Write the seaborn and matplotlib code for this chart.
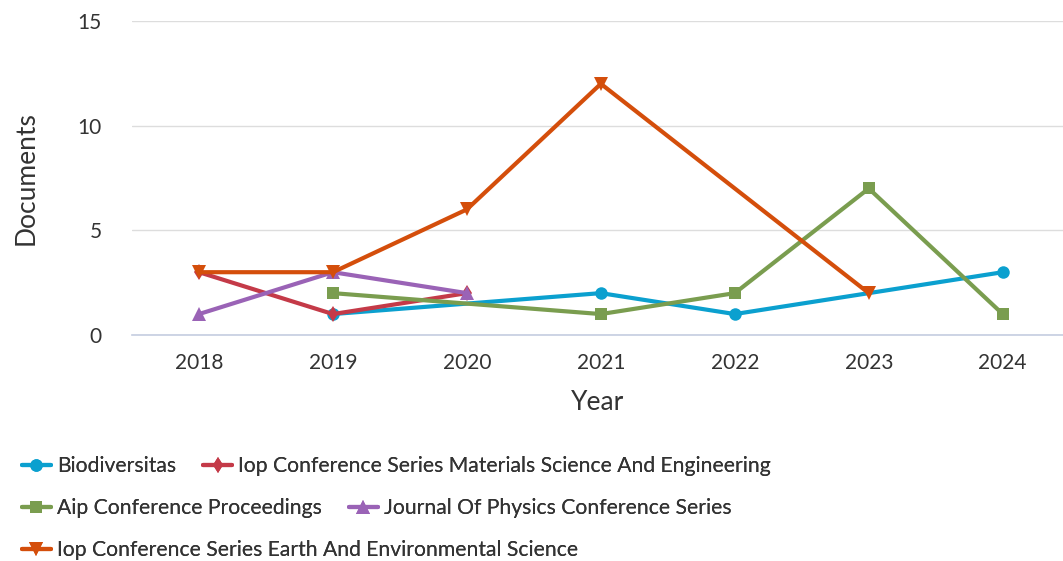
import matplotlib
matplotlib.use("Agg")
import matplotlib.pyplot as plt
import seaborn as sns
import pandas as pd

# Data
bio_years = [2019, 2021, 2022, 2024]
bio_docs = [1, 2, 1, 3]

iop_mse_years = [2018, 2019, 2020]
iop_mse_docs = [3, 1, 2]

aip_years = [2019, 2021, 2022, 2023, 2024]
aip_docs = [2, 1, 2, 7, 1]

jphys_years = [2018, 2019, 2020]
jphys_docs = [1, 3, 2]

iop_ees_years = [2018, 2019, 2020, 2021, 2023]
iop_ees_docs = [3, 3, 6, 12, 2]

year_ticks = [2018, 2019, 2020, 2021, 2022, 2023, 2024]
doc_ticks = [0, 5, 10, 15]

series = [
    ("Biodiversitas", bio_years, bio_docs, "#0ba0cf", "o", 9),
    ("Iop Conference Series Materials Science And Engineering", iop_mse_years, iop_mse_docs, "#c43a48", "d", 8),
    ("Aip Conference Proceedings", aip_years, aip_docs, "#7a9d4f", "s", 9),
    ("Journal Of Physics Conference Series", jphys_years, jphys_docs, "#9a63b6", "^", 10),
    ("Iop Conference Series Earth And Environmental Science", iop_ees_years, iop_ees_docs, "#d44e0b", "v", 10),
]

sns.set_style("white")
plt.rcParams["font.family"] = ["Lato", "DejaVu Sans"]

fig = plt.figure(figsize=(10.63, 5.61), dpi=100)
ax = fig.add_axes([132 / 1063, 1 - 335 / 561, 1 - 132 / 1063, (335 - 21) / 561])

handles = {}
for name, xs, ys, color, mk, ms in series:
    df = pd.DataFrame({"Year": xs, "Documents": ys})
    sns.lineplot(data=df, x="Year", y="Documents", ax=ax, color=color, marker=mk,
                 markersize=ms, markeredgewidth=0, linewidth=3, label=name, legend=False)
    handles[name] = ax.lines[-1]

ax.set_xlim(2017.5, 2024.45)
ax.set_ylim(0, 15)
ax.set_xticks(year_ticks)
ax.set_yticks(doc_ticks)
ax.tick_params(axis="both", length=0, labelsize=15, colors="#333333")
ax.tick_params(axis="x", pad=13)
ax.tick_params(axis="y", pad=22)
ax.grid(axis="y", color="#dddddd", linewidth=1)
ax.grid(axis="x", visible=False)
for s in ["top", "right", "left"]:
    ax.spines[s].set_visible(False)
ax.spines["bottom"].set_color("#c5cde0")
ax.spines["bottom"].set_linewidth(1.2)
ax.set_axisbelow(True)

ax.set_xlabel("Year", fontsize=19, color="#333333", labelpad=12)
ax.set_ylabel("Documents", fontsize=19, color="#333333", labelpad=28)

rows = [
    ["Biodiversitas", "Iop Conference Series Materials Science And Engineering"],
    ["Aip Conference Proceedings", "Journal Of Physics Conference Series"],
    ["Iop Conference Series Earth And Environmental Science"],
]
row_y = [466, 508, 550]
for names, y in zip(rows, row_y):
    leg = fig.legend([handles[n] for n in names], names, ncol=len(names),
                     loc="center left", bbox_to_anchor=(22 / 1063, 1 - y / 561),
                     frameon=False, fontsize=15.2, handlelength=1.35,
                     handletextpad=0.3, columnspacing=1.3, borderaxespad=0,
                     borderpad=0, labelcolor="#333333")
    fig.add_artist(leg)

fig.savefig("out.png", dpi=100)
